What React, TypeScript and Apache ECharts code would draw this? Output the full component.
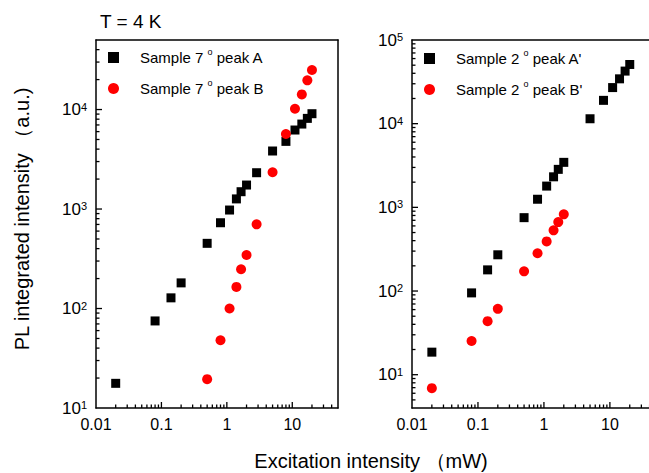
import React, { useEffect, useRef } from 'react';
import * as echarts from 'echarts';

// ---------- data ----------
const excitationA7 = [0.02, 0.08, 0.14, 0.2, 0.5, 0.8, 1.1, 1.4, 1.65, 2, 2.85, 5, 8, 11, 14, 17, 20];
const intensityA7 = [17.7, 75, 128, 181, 452, 728, 977, 1264, 1493, 1742, 2317, 3830, 4786, 6225, 7146, 8150, 9080];
const excitationB7 = [0.5, 0.8, 1.1, 1.4, 1.65, 2, 2.85, 5, 8, 11, 14, 17, 20];
const intensityB7 = [19.5, 48, 100, 165, 248, 345, 702, 2340, 5680, 10190, 14200, 19650, 24950];
const excitationA2 = [0.02, 0.08, 0.14, 0.2, 0.5, 0.8, 1.1, 1.4, 1.65, 2, 5, 8, 11, 14, 17, 20];
const intensityA2 = [18.6, 95, 179, 271, 753, 1250, 1795, 2317, 2845, 3450, 11450, 19000, 27000, 34350, 42500, 51000];
const excitationB2 = [0.02, 0.08, 0.14, 0.2, 0.5, 0.8, 1.1, 1.4, 1.65, 2];
const intensityB2 = [6.9, 25.3, 43.6, 61.3, 172, 283, 392, 531, 667, 826];

const seriesNames = ['Sample 7 o peak A', 'Sample 7 o peak B', "Sample 2 o peak A'", "Sample 2 o peak B'"];
const xTickLabels: Record<string, string> = { '-2': '0.01', '-1': '0.1', '0': '1', '1': '10', '2': '100' };
const titleText = 'T = 4 K';
const xTitle = 'Excitation intensity （mW)';
const yTitle = 'PL integrated intensity （a.u.)';

const FONT = '"Liberation Sans", Arial, Helvetica, sans-serif';

const X_MIN = 0.01, X_MAX = 50;
const Y7_MIN = 10, Y7_MAX = 50000;
const Y2_MIN = 4, Y2_MAX = 100000;

function zip(xs: number[], ys: number[]) {
  return xs.map((x, i) => [x, ys[i]]);
}

// tick positions (1..9 x 10^n) strictly inside (lo, hi); [value, tickLength]
function logTicks(lo: number, hi: number) {
  const out: number[][] = [];
  for (let e = Math.floor(Math.log10(lo)) - 1; e <= Math.ceil(Math.log10(hi)); e++) {
    for (let k = 1; k <= 9; k++) {
      const v = k * Math.pow(10, e);
      if (v > lo * 1.0001 && v < hi * 0.9999) out.push([v, k === 1 ? 6 : 3.5]);
    }
  }
  return out;
}

function isPow10(v: number) {
  const l = Math.log10(v);
  return Math.abs(l - Math.round(l)) < 1e-6;
}

const axisLineStyle = { color: '#000', width: 1.5 };

function logX(grid: number) {
  return {
    type: 'log', logBase: 10, gridIndex: grid, min: X_MIN, max: X_MAX, position: 'bottom',
    axisLine: { show: true, onZero: false, lineStyle: axisLineStyle },
    axisTick: { show: false },
    axisLabel: {
      fontSize: 16, color: '#000', fontFamily: FONT, margin: 8,
      formatter: (v: number) => (isPow10(v) ? xTickLabels[String(Math.round(Math.log10(v)))] || '' : ''),
    },
    splitLine: { show: false },
  };
}

function logY(grid: number, min: number, max: number) {
  return {
    type: 'log', logBase: 10, gridIndex: grid, min, max, position: 'left',
    axisLine: { show: true, onZero: false, lineStyle: axisLineStyle },
    axisTick: { show: false },
    axisLabel: {
      fontSize: 17, color: '#000', fontFamily: FONT, margin: 9,
      formatter: (v: number) => (isPow10(v) ? `10{sup|${Math.round(Math.log10(v))}}` : ''),
      rich: {
        sup: { fontSize: 11, color: '#000', fontFamily: FONT, verticalAlign: 'top', lineHeight: 11 },
      },
    },
    splitLine: { show: false },
  };
}

function frameAxis(grid: number, position: string) {
  return {
    type: 'value', gridIndex: grid, min: 0, max: 1, position,
    axisLine: { show: true, onZero: false, lineStyle: axisLineStyle },
    axisTick: { show: false },
    axisLabel: { show: false },
    splitLine: { show: false },
  };
}

// inward ticks drawn through the axes' own scales
function tickSeries(axisIdx: number, dir: 'x' | 'y', anchor: number, ticks: number[][]) {
  return {
    type: 'custom', name: 'ticks', xAxisIndex: axisIdx, yAxisIndex: axisIdx, silent: true, z: 3,
    data: ticks,
    renderItem: (_params: any, api: any) => {
      const v = api.value(0);
      const len = api.value(1);
      const p = dir === 'x' ? api.coord([v, anchor]) : api.coord([anchor, v]);
      const shape = dir === 'x'
        ? { x1: p[0], y1: p[1], x2: p[0], y2: p[1] - len }
        : { x1: p[0], y1: p[1], x2: p[0] + len, y2: p[1] };
      return { type: 'line', shape, style: { stroke: '#000', lineWidth: 1.3 } };
    },
  };
}

function legendFor(names: string[], left: number, top: number) {
  return {
    orient: 'vertical', left, top, padding: 0,
    itemWidth: 11, itemHeight: 11, itemGap: 10,
    data: names,
    formatter: (n: string) => n.replace(' o ', ' {sup|o} '),
    textStyle: {
      fontSize: 15, color: '#000', fontFamily: FONT, lineHeight: 21, padding: [0, 0, 0, 16],
      rich: { sup: { fontSize: 9, color: '#000', fontFamily: FONT, verticalAlign: 'top', lineHeight: 9 } },
    },
  };
}

const leftRect = { left: 96, top: 40, width: 242, height: 368, show: false };
const rightRect = { left: 412, top: 40, width: 244, height: 368, show: false };

export default function App() {
  const ref = useRef<HTMLDivElement>(null);
  useEffect(() => {
    if (!ref.current) return;
    const chart = echarts.init(ref.current, null, { renderer: 'svg' });
    chart.setOption({
      animation: false,
      backgroundColor: '#fff',
      grid: [leftRect, rightRect, { ...leftRect }, { ...rightRect }],
      xAxis: [
        logX(0),
        logX(1),
        frameAxis(2, 'top'),
        frameAxis(3, 'top'),
      ],
      yAxis: [
        logY(0, Y7_MIN, Y7_MAX),
        logY(1, Y2_MIN, Y2_MAX),
        frameAxis(2, 'right'),
        frameAxis(3, 'right'),
      ],
      legend: [
        legendFor([seriesNames[0], seriesNames[1]], 108, 47),
        legendFor([seriesNames[2], seriesNames[3]], 424, 48),
      ],
      series: [
        tickSeries(0, 'x', Y7_MIN, logTicks(X_MIN, X_MAX)),
        tickSeries(0, 'y', X_MIN, logTicks(Y7_MIN, Y7_MAX)),
        tickSeries(1, 'x', Y2_MIN, logTicks(X_MIN, X_MAX)),
        tickSeries(1, 'y', X_MIN, logTicks(Y2_MIN, Y2_MAX)),
        { name: seriesNames[0], type: 'scatter', xAxisIndex: 0, yAxisIndex: 0, symbol: 'rect', symbolSize: 9, z: 4, itemStyle: { color: '#000', opacity: 1 }, data: zip(excitationA7, intensityA7) },
        { name: seriesNames[1], type: 'scatter', xAxisIndex: 0, yAxisIndex: 0, symbol: 'circle', symbolSize: 10, z: 4, itemStyle: { color: '#ff0000', opacity: 1 }, data: zip(excitationB7, intensityB7) },
        { name: seriesNames[2], type: 'scatter', xAxisIndex: 1, yAxisIndex: 1, symbol: 'rect', symbolSize: 9, z: 4, itemStyle: { color: '#000', opacity: 1 }, data: zip(excitationA2, intensityA2) },
        { name: seriesNames[3], type: 'scatter', xAxisIndex: 1, yAxisIndex: 1, symbol: 'circle', symbolSize: 10, z: 4, itemStyle: { color: '#ff0000', opacity: 1 }, data: zip(excitationB2, intensityB2) },
      ],
      graphic: [
        { type: 'text', x: 100, y: 21, style: { text: titleText, fontSize: 19, fill: '#000', fontFamily: FONT, align: 'left', verticalAlign: 'middle' } },
        { type: 'text', x: 371, y: 461, style: { text: xTitle, fontSize: 20, fill: '#000', fontFamily: FONT, align: 'center', verticalAlign: 'middle' } },
        { type: 'text', x: 22, y: 219, rotation: Math.PI / 2, style: { text: yTitle, fontSize: 20, fill: '#000', fontFamily: FONT, align: 'center', verticalAlign: 'middle' } },
      ],
    });
    return () => chart.dispose();
  }, []);
  return (
    <div style={{ position: 'fixed', left: 0, top: 0, width: 649, height: 473, overflow: 'hidden', background: '#fff' }}>
      <div ref={ref} style={{ width: 700, height: 473 }} />
    </div>
  );
}
